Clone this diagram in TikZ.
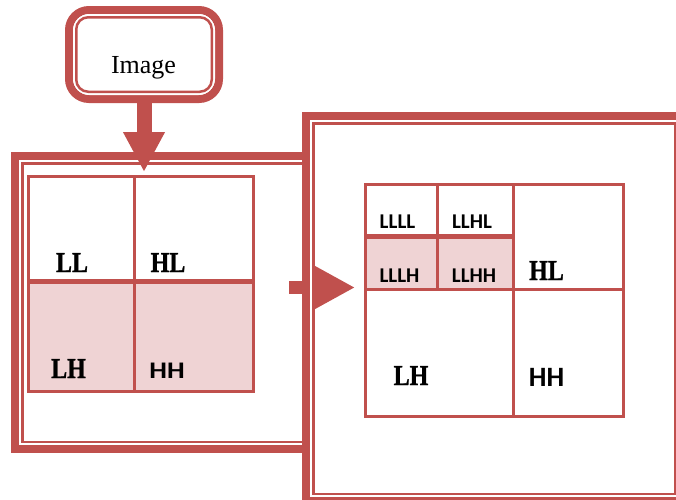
\documentclass[tikz,border=0pt]{standalone}
\usepackage{fontspec}
\usepackage{graphicx}
\usetikzlibrary{arrows.meta}
\setmainfont{Liberation Serif}
\newfontfamily\lblserif{Liberation Serif}[BoldFeatures={FakeBold=1.2}]
\newfontfamily\lblsans{Carlito}
\definecolor{accent}{HTML}{C0504D}
\definecolor{bandfill}{HTML}{EFD3D4}
% vertical stretch of a label
\newcommand\vstretch[2]{\scalebox{1}[#1]{#2}}

\begin{document}
\begin{tikzpicture}[x=1pt,y=-1pt,
  area/.style={rectangle, draw=none, inner sep=0pt, outer sep=0pt},
  gridline/.style={draw=accent, line width=3pt},
  midline/.style={draw=accent, line width=5pt},
  lbl/.style={inner sep=0pt, anchor=base},
  seriflbl/.style={lbl, font=\lblserif\bfseries\fontsize{24}{24}\selectfont},
  smalllbl/.style={lbl, font=\lblsans\bfseries\fontsize{21}{21}\selectfont},
  biglbl/.style={lbl, font=\lblsans\bfseries\fontsize{28}{28}\selectfont},
]
\useasboundingbox (0,0) rectangle (676,499);
\clip (0,0) rectangle (676,499);

% outer regions
\node[area, minimum width=158pt, minimum height=97pt] (img) at (144,54.5) {};
\node[area, minimum width=299pt, minimum height=301pt] (F1) at (160.5,302.5) {};
\node[area, minimum width=384pt, minimum height=393pt] (F2) at (494,308.5) {};
\node[area, minimum width=225pt, minimum height=214.5pt] (L) at (141,283.75) {};
\node[area, minimum width=258pt, minimum height=232pt] (R) at (494.5,300.5) {};

% first-level frame: thick-thin border open on its right side
\foreach \w/\c/\i in {8/accent/4, 3/white/9.5, 2.5/accent/11.25}{
  \draw[\c, line width=\w pt]
    ([shift={(0,\i)}]F1.north east) -- ([shift={(\i,\i)}]F1.north west)
    -- ([shift={(\i,-\i)}]F1.south west) -- ([shift={(0,-\i)}]F1.south east);
}

% arrow from the first to the second level
\coordinate (rs) at (289,287.5);
\draw[accent, line width=13pt, -{Triangle[width=40pt,length=40pt]}]
  (rs) -- ([xshift=-10.5pt]rs -| R.west);

% second-level frame
\foreach \w/\c/\i in {8/accent/4, 3/white/9.5, 2.5/accent/11.25}{
  \draw[\c, line width=\w pt]
    ([shift={(\i,\i)}]F2.north west) rectangle ([shift={(-\i,-\i)}]F2.south east);
}

% input box
\foreach \w/\c/\i/\r in {8/accent/4/20, 3/white/9.5/15, 2.5/accent/11.25/12}{
  \draw[\c, line width=\w pt, rounded corners=\r pt]
    ([shift={(\i,\i)}]img.north west) rectangle ([shift={(-\i,-\i)}]img.south east);
}
\node[lbl, font=\fontsize{26}{26}\selectfont] (imgtxt) at (143.5,73) {Image};

% arrow from the input to the first level
\draw[accent, line width=15pt, -{Triangle[width=39pt,length=40pt]}]
  (img.south) -- ([yshift=4.5pt]img.south |- L.north);

% first-level subbands
\coordinate (Lm) at (134.5,281);
\fill[bandfill] (L.west |- Lm) rectangle (L.south east);
\draw[gridline] (Lm |- L.north) -- (Lm |- L.south);
\draw[midline] (L.west |- Lm) -- (L.east |- Lm);
\draw[gridline] (L.north west) rectangle (L.south east);

\node[seriflbl] (LL) at (72,272) {\vstretch{1.2}{LL}};
\node[seriflbl] (HL) at (168,272) {\vstretch{1.2}{HL}};
\node[seriflbl] (LH) at (68.5,378) {\vstretch{1.2}{LH}};
\node[biglbl] (HH) at (167,378) {\vstretch{0.85}{HH}};

% second-level subbands
\coordinate (Rm) at (513.5,289.5);
\coordinate (Rs) at (437.5,236);
\fill[bandfill] (R.west |- Rs) rectangle (Rm);
\draw[gridline] (Rm |- R.north) -- (Rm |- R.south);
\draw[gridline] (R.west |- Rm) -- (R.east |- Rm);
\draw[gridline] (Rs |- R.north) -- (Rs |- Rm);
\draw[midline] (R.west |- Rs) -- (Rm |- Rs);
\draw[gridline] (R.north west) rectangle (R.south east);

\node[smalllbl] (LLLL) at (397.5,228) {LLLL};
\node[smalllbl] (LLHL) at (472,228) {LLHL};
\node[smalllbl] (LLLH) at (399.5,282) {LLLH};
\node[smalllbl] (LLHH) at (474,282) {LLHH};
\node[seriflbl] (HL2) at (546.5,280) {\vstretch{1.2}{HL}};
\node[seriflbl] (LH2) at (411,385) {\vstretch{1.2}{LH}};
\node[biglbl] (HH2) at (546.5,386.5) {HH};
\end{tikzpicture}
\end{document}
